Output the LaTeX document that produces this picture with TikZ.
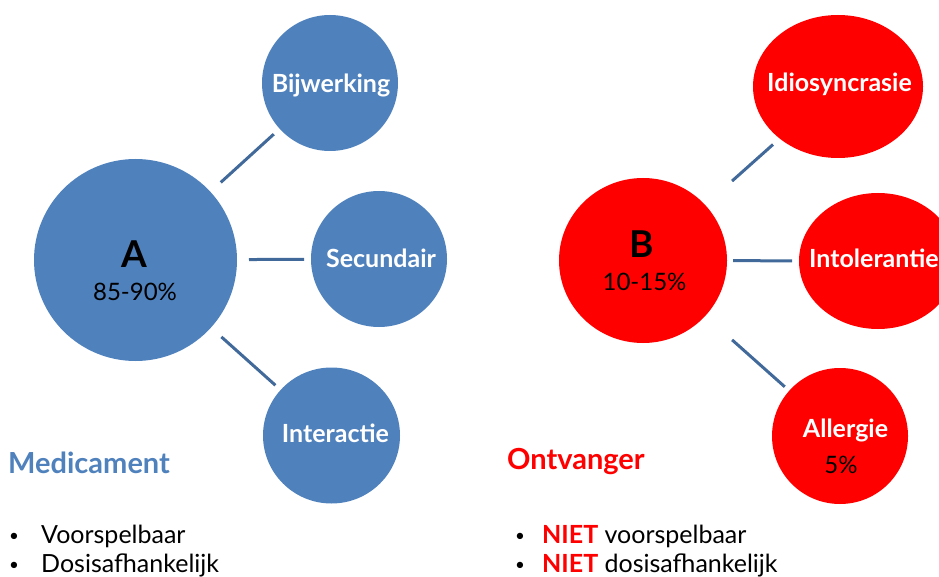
\documentclass[tikz,border=0pt]{standalone}
\usepackage{fontspec}
\setmainfont{Lato}
\usetikzlibrary{shapes.geometric}
\definecolor{cblue}{HTML}{4F81BD}
\definecolor{cred}{HTML}{FF0000}
\definecolor{cline}{HTML}{41699A}
\tikzset{
  bubble/.style={ellipse, inner sep=0pt, outer sep=0pt, draw=none},
  bluebub/.style={bubble, fill=cblue},
  redbub/.style={bubble, fill=cred},
  conn/.style={draw=cline, line width=3pt},
  wlbl/.style={anchor=base, inner sep=0pt, text=white, font=\fontsize{25}{29}\selectfont\bfseries},
  bigl/.style={anchor=base, inner sep=0pt, text=black, font=\fontsize{37}{40}\selectfont\bfseries},
  pct/.style={anchor=base, inner sep=0pt, text=black, font=\fontsize{24}{28}\selectfont},
  head/.style={anchor=base west, inner sep=0pt, font=\fontsize{29}{32}\selectfont\bfseries},
  item/.style={anchor=base west, inner sep=0pt, font=\fontsize{25}{29}\selectfont},
  dot/.style={anchor=base, inner sep=0pt, font=\fontsize{17}{20}\selectfont},
}
\begin{document}
\begin{tikzpicture}[x=1pt, y=-1pt]
\useasboundingbox (0,0) rectangle (939,577);
% left group
\node[bluebub, minimum width=203pt, minimum height=202pt] (A) at (135.5,260) {};
\node[bluebub, minimum width=136pt, minimum height=136pt] (Bij) at (330,83) {};
\node[bluebub, minimum width=136pt, minimum height=136pt] (Sec) at (379,259) {};
\node[bluebub, minimum width=137pt, minimum height=136pt] (Int) at (331.5,435.5) {};
\draw[conn, shorten <=14pt, shorten >=8pt] (A) -- (Bij);
\draw[conn, shorten <=12pt, shorten >=7pt] (A) -- (Sec);
\draw[conn, shorten <=14pt, shorten >=7pt] (A) -- (Int);
\node[bigl] (Al) at (134,267) {A};
\node[pct] (Ap) at (135,300) {85-90\%};
\node[wlbl] (Bijl) at (331,93) {Bijwerking};
\node[wlbl] (Secl) at (381,268) {Secundair};
\node[wlbl] (Intl) at (335.5,442) {Interactie};
% right group
\node[redbub, minimum width=168pt, minimum height=165pt] (B) at (643,260.5) {};
\node[redbub, minimum width=170pt, minimum height=143pt] (Idi) at (838,86.5) {};
\node[redbub, minimum width=158pt, minimum height=136pt] (Intol) at (878,261) {};
\node[redbub, minimum width=136pt, minimum height=136pt] (All) at (840,436) {};
\draw[conn, shorten <=36pt, shorten >=9pt] (B) -- (Idi);
\draw[conn, shorten <=6pt, shorten >=7pt] (B) -- (Intol);
\draw[conn, shorten <=36pt, shorten >=6pt] (B) -- (All);
\node[bigl] (Bl) at (642,258) {B};
\node[pct] (Bp) at (644.5,290) {10-15\%};
\node[wlbl] (Idil) at (839.5,92) {Idiosyncrasie};
\node[wlbl, anchor=base west] (Intoll) at (809,268) {Intolerantie};
\node[wlbl] (Alll) at (845.5,437) {Allergie};
\node[pct] (Allp) at (841,473) {5\%};
% bottom texts
\node[head, text=cblue] (Med) at (8,473) {Medicament};
\node[dot] (b1) at (14,541) {•};
\node[item] (t1) at (41,543) {Voorspelbaar};
\node[dot] (b2) at (14,570) {•};
\node[item] (t2) at (41,572) {Dosisafhankelijk};
\node[head, text=cred] (Ont) at (507,469) {Ontvanger};
\node[dot] (b3) at (520,541) {•};
\node[item] (t3) at (542,543) {\textcolor{cred}{\bfseries NIET} voorspelbaar};
\node[dot] (b4) at (520,570) {•};
\node[item] (t4) at (542,572) {\textcolor{cred}{\bfseries NIET} dosisafhankelijk};
\end{tikzpicture}
\end{document}
